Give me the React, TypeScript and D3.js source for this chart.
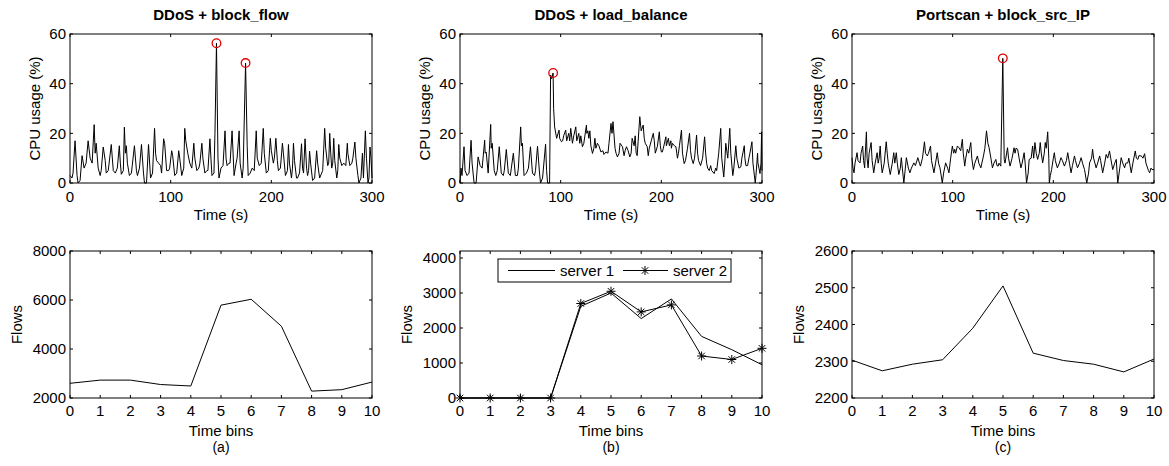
import React from "react";
import * as d3 from "d3";

type Pt = [number, number];

// ---------- data ----------
const cpuTitles = ["DDoS + block_flow", "DDoS + load_balance", "Portscan + block_src_IP"];
const cpuTicksX = [0, 100, 200, 300];
const cpuTicksY = [0, 20, 40, 60];

const cpuBlockFlow: Pt[] = [[0,3],[2,2],[3,4],[5,17],[7,3],[8,0],[10,1],[12,11],[14,6],[16,8],[18,17],[20,10],[22,8],[24,23.5],[25,12],[26,16],[28,6],[30,3],[31,5],[33,14.5],[35,9],[36,4],[38,5],[41,15.5],[43,5],[45,4],[47,6],[49,15],[50,8],[51,3.5],[53,5],[54,22.5],[55,12],[56,15],[57,8],[59,3],[61,4],[64,15],[66,5],[67,3],[69,6],[71,15.5],[73,4],[74,0],[76,0],[78,15.5],[80,2],[82,4],[84,22],[85,12],[86,9],[88,8],[90,7],[91,4],[93,17.8],[94,16],[96,5],[98,5],[99,6],[101,13],[102,11],[104,3],[106,4],[108,13],[109,10],[111,3],[113,6],[114,22],[115,17],[117,12],[119,8],[121,6],[123,16],[124,10],[126,5],[128,6],[129,8],[131,16],[132,10],[134,4],[136,5],[137,5],[139,17.8],[140,10],[141,3],[143,4],[144,20],[145.5,56.3],[147,10],[148,2],[150,6],[152,7],[154,21],[155,10],[156,7],[158,8],[159,8],[161,21],[162,12],[163,3],[165,8],[166,10],[168,21],[169,8],[171,2],[172,6],[174.4,48.3],[176,15],[177,3],[179,4],[181,6],[183,5],[185,21],[186,10],[188,7],[190,8],[192,22],[193,12],[195,4],[197,5],[199,18],[200,13],[202,8],[203,10],[204.5,18],[206,9],[207,5],[209,6],[211,16],[212,12],[214,3],[216,5],[217,15.5],[218,8],[220,2],[221,6],[222,16],[223,9],[225,2],[226,2],[228,4],[230,15.8],[231,6],[232,4],[233.5,17.8],[235,6],[236,3],[237,5],[238,12.8],[239,8],[241,1],[243,2],[245,13],[246,8],[248,2],[250,4],[251,5],[253,22],[254,14],[256,7],[257,8],[258,20],[259,12],[260,6],[261,8],[262,18],[263,9],[265,2],[266,5],[267,15.5],[268,10],[270,7],[272,8],[274,7],[275.5,16],[276,12],[278,7],[280,8],[281,10],[283,16.5],[284,10],[286,3],[287,0],[289,2],[290.5,12],[291.5,2],[293.4,21],[294.5,10],[296,0],[297,2],[298,14.5],[299,10],[300,2]];
const peaksBlockFlow: Pt[] = [[145.5, 56.3], [174.4, 48.3]];

const cpuLoadBalance: Pt[] = [[0,0],[1,6],[2,3],[4,14.6],[5,5],[7,3],[9,4],[11,17.2],[12,8],[14,0],[16,0],[18,10.5],[20,7],[22,6],[24.5,17.2],[25,12],[26,12.5],[28,4],[30.5,23.6],[31,14],[32,16],[34,5],[35.5,3],[37,5],[39,14.6],[41,4],[43,3],[44,5],[46,13.5],[48,4],[50,3],[51,6],[53,12],[55,3],[57,3],[58,6],[60.3,22.6],[61,15],[62,16],[63.6,3],[66,4],[68,6],[70,14.6],[72,4],[74,3],[75,5],[77,14.8],[79,4],[80,0],[82,2],[85,15.6],[86,5],[87,0],[89,0],[90,43.5],[91,42],[92.5,44.3],[93,30],[94,22.6],[96,18],[98.4,21.3],[99,18],[100.8,16.6],[102,17],[103,19],[105,21.3],[106,17],[108,20],[109,17],[110,22],[111.7,16],[113,19],[115,22.6],[116,17],[118,20],[119,16],[120,19],[121.6,14.6],[123,16],[125.6,23.3],[126,20],[127,21],[128,18],[129,21],[130,15],[131.6,11.9],[133,14],[134,18],[135,14],[136.5,16],[138,15],[140,12.5],[142,13],[143,11.5],[145,12.5],[147,12],[148,16],[150,24],[151,20],[152,24.7],[154,14],[155,12],[156.4,10.5],[158,12],[159,16],[161.4,14.6],[163,11],[164,13],[165.4,14.6],[167,13],[168.7,10.5],[170,12],[171,18],[173,15],[174,19],[175,12],[176,11],[178.6,26.7],[180,21],[182,23.3],[183,18],[184,16],[186,14.6],[187,11],[188,14],[190,17],[192,20],[193,17],[194,12],[196,14.6],[198,20.6],[199,15],[200,12.5],[201,12.5],[202,14],[204.5,18.6],[205,15],[207,18],[208,15],[209.5,17],[210,14],[211,16],[213,15],[214.5,14.6],[216,10],[217,12],[218,15],[220,21.3],[221,12],[222.7,7.8],[224,9],[226,14],[228,20],[229,13],[230,10],[231.7,7.8],[233,10],[235,19.3],[236,12],[237,9],[239,7],[241,10],[243,18.6],[244,12],[245,8],[246,6],[247.6,5],[249,7],[250,5],[252.5,3.8],[254,6],[255,5],[257,12],[259,22],[260,10],[262,2.4],[263,8],[264,16],[266,10],[268,22],[269,12],[271,3],[272,6],[274,15],[275,10],[277,6],[279,6.5],[280,10],[282.4,15],[283,10],[284,7],[285.7,7],[287,10],[288,12],[290,16.6],[291,8],[293.3,0],[294,3],[295.6,12],[296,8],[298,3.8],[299,8],[299.6,20.6],[300,5]];
const peaksLoadBalance: Pt[] = [[92.5, 44.3]];

const cpuBlockSrcIP: Pt[] = [[0,10.2],[1,6],[2,4.1],[3,8],[5,12.2],[6,9],[8,8.1],[9,12],[10.6,14.9],[11.5,9],[12.6,6.1],[13,10],[14.3,20.6],[15,10],[16,6.1],[17,12],[19,16.3],[20,9],[21.6,4.1],[23,8],[25,12.2],[26,8],[27,10],[28,14.9],[29,8],[30,4.1],[32,8],[34,16.6],[35,12],[36,8],[38,3.4],[40,8],[41.5,12.2],[42.5,8],[44,12.2],[45,8],[46.5,3.4],[48,6],[49,10.2],[50,6],[51.5,0],[53,6],[54,10.2],[56,6],[57.5,4.1],[59,6],[61.5,8.1],[63,7],[65.4,10.2],[67,8],[68,6.8],[70,10],[72,16.6],[73,12],[74.8,10.9],[76,12],[78,14.9],[79,9],[81.4,4.1],[83,8],[84.7,12.2],[86,8],[87.4,6.1],[89.7,0],[91,4],[93,8.1],[95,6],[96.3,4.1],[98,10],[99.7,14.9],[101,12],[102,13.6],[103,12],[104.7,14.9],[106.3,14.2],[108,13],[109.6,17.6],[110.5,12],[112,6.8],[113,10],[114.6,13.6],[116,12],[118,16.3],[119,10],[120.6,5.4],[122,8],[124.6,10.9],[126,8],[128,6.1],[129,8],[130.6,10.9],[132,14],[133.6,21],[135,16],[136.2,14.2],[138,10],[139.5,6.1],[141,8],[142.9,9.5],[144,7],[145.2,6.8],[146,8],[147.8,6.8],[149.8,50.2],[151.2,9.5],[152,8],[154.5,14.2],[155.5,10],[157,6.8],[159,10],[161,14.2],[162,12],[163,14],[164.5,13.6],[166,10],[167.8,6.1],[169,8],[171,12.2],[172,8],[173.4,0],[175,4],[176,9.5],[178,10],[179.4,14.9],[180.5,10],[181.7,16.3],[183,12],[184.4,9.5],[186,12],[187,16.3],[188,12],[189.4,8.1],[191,12],[192,16.3],[193,14],[194.4,20.6],[195.5,10],[196,0],[197,3],[198.3,5.4],[200,10],[201,12.2],[202,9],[204,6.1],[206,8],[207.6,10.2],[209,9],[211,6.8],[213,9],[214.3,12.2],[216,8],[217.6,4.1],[219,7],[221,10.9],[222,9],[224,6.1],[226,8],[227.6,10.2],[229,8],[231,5.4],[233.2,0],[235,4],[236,8.1],[238,10],[239,13.6],[240,10],[242.5,6.1],[244,8],[246,10.9],[247,9],[249,4.1],[251,8],[252.5,11.5],[254,10],[255.8,12.9],[257,10],[259,5.4],[261,8],[262.5,9.5],[264,0],[266,6],[267.4,10.2],[269,8],[270.8,6.1],[272,8],[274,8.1],[275,10],[277.4,4.1],[279,8],[281.4,12.9],[282.5,10],[284,9.5],[285,11],[287.4,10.9],[289,10],[290.7,11.8],[292,8],[293,6.8],[294.5,5],[295.7,4.1],[297,6],[298,5.4],[300,5.4]];
const peaksBlockSrcIP: Pt[] = [[149.8, 50.2]];

const timeBins = [0, 1, 2, 3, 4, 5, 6, 7, 8, 9, 10];
const flowsBlockFlow = [2600, 2730, 2730, 2550, 2490, 5790, 6030, 4930, 2280, 2340, 2650];
const flowsServer1 = [0, 0, 0, 0, 2620, 3000, 2270, 2830, 1760, 1380, 950];
const flowsServer2 = [0, 0, 0, 0, 2700, 3050, 2460, 2660, 1200, 1100, 1420];
const flowsBlockSrcIP = [2303, 2274, 2292, 2304, 2390, 2505, 2322, 2302, 2292, 2271, 2306];

const flowTicksA = [2000, 4000, 6000, 8000];
const flowTicksB = [0, 1000, 2000, 3000, 4000];
const flowTicksC = [2200, 2300, 2400, 2500, 2600];
const legendLabels = ["server 1", "server 2"];
const subLabels = ["(a)", "(b)", "(c)"];

// ---------- layout ----------
const FONT = "'Liberation Sans', Arial, Helvetica, sans-serif";
const FS = 15;
const PW = 302;
const colLeft = [70, 460, 852];
const TOP0 = 34, TOP1 = 183;
const BOT0 = 251, BOT1 = 398;
const TICK = 3;

function Frame({ x, y, x0, x1, y0, y1, xt, yt }: any) {
  return (
    <g>
      <rect x={x0} y={y0} width={x1 - x0} height={y1 - y0} fill="none" stroke="#000" strokeWidth={1} />
      {xt.map((t: number) => (
        <g key={"x" + t}>
          <line x1={x(t)} x2={x(t)} y1={y1} y2={y1 - TICK} stroke="#000" />
          <line x1={x(t)} x2={x(t)} y1={y0} y2={y0 + TICK} stroke="#000" />
        </g>
      ))}
      {yt.map((t: number) => (
        <g key={"y" + t}>
          <line x1={x0} x2={x0 + TICK} y1={y(t)} y2={y(t)} stroke="#000" />
          <line x1={x1} x2={x1 - TICK} y1={y(t)} y2={y(t)} stroke="#000" />
          <text x={x0 - 4} y={y(t)} dy="0.36em" textAnchor="end" fontSize={FS} fontFamily={FONT}>{t}</text>
        </g>
      ))}
    </g>
  );
}

function CpuPanel({ left, title, data, peaks }: { left: number; title: string; data: Pt[]; peaks: Pt[] }) {
  const x = d3.scaleLinear().domain([0, 300]).range([left, left + PW]);
  const y = d3.scaleLinear().domain([0, 60]).range([TOP1, TOP0]);
  const line = d3.line<Pt>().x((d) => x(d[0])).y((d) => y(d[1]));
  const cx = left + PW / 2;
  return (
    <g>
      <text x={cx} y={20} textAnchor="middle" fontSize={FS} fontWeight="bold" fontFamily={FONT}>{title}</text>
      <path d={line(data) || ""} fill="none" stroke="#000" strokeWidth={1} strokeLinejoin="round" />
      <Frame x={x} y={y} x0={left} x1={left + PW} y0={TOP0} y1={TOP1} xt={cpuTicksX} yt={cpuTicksY} />
      {cpuTicksX.map((t) => (
        <text key={t} x={x(t)} y={TOP1 + 19} textAnchor="middle" fontSize={FS} fontFamily={FONT}>{t}</text>
      ))}
      <text x={cx} y={TOP1 + 37} textAnchor="middle" fontSize={FS} fontFamily={FONT}>Time (s)</text>
      <text transform={`translate(${left - 35},${(TOP0 + TOP1) / 2}) rotate(-90)`} dy="0.36em" textAnchor="middle" fontSize={FS} fontFamily={FONT}>CPU usage (%)</text>
      {peaks.map((p, i) => (
        <circle key={i} cx={x(p[0])} cy={y(p[1])} r={4.3} fill="none" stroke="#e00000" strokeWidth={1.3} />
      ))}
    </g>
  );
}

function Star({ cx, cy, r }: { cx: number; cy: number; r: number }) {
  const d = r * 0.72;
  return (
    <g stroke="#000" strokeWidth={1}>
      <line x1={cx - r} x2={cx + r} y1={cy} y2={cy} />
      <line x1={cx} x2={cx} y1={cy - r} y2={cy + r} />
      <line x1={cx - d} x2={cx + d} y1={cy - d} y2={cy + d} />
      <line x1={cx - d} x2={cx + d} y1={cy + d} y2={cy - d} />
    </g>
  );
}

function FlowPanel({ left, domain, ticks, series, stars, sub, legend }: any) {
  const x = d3.scaleLinear().domain([0, 10]).range([left, left + PW]);
  const y = d3.scaleLinear().domain(domain).range([BOT1, BOT0]);
  const line = d3.line<number>().x((_, i) => x(timeBins[i])).y((d) => y(d));
  const cx = left + PW / 2;
  const ly = 270.5;
  return (
    <g>
      {series.map((s: number[], i: number) => (
        <path key={i} d={line(s) || ""} fill="none" stroke="#000" strokeWidth={1} />
      ))}
      {stars && stars.map((v: number, i: number) => <Star key={i} cx={x(timeBins[i])} cy={y(v)} r={4.5} />)}
      <Frame x={x} y={y} x0={left} x1={left + PW} y0={BOT0} y1={BOT1} xt={timeBins} yt={ticks} />
      {timeBins.map((t) => (
        <text key={t} x={x(t)} y={BOT1 + 18} textAnchor="middle" fontSize={FS} fontFamily={FONT}>{t}</text>
      ))}
      <text x={cx} y={BOT1 + 38} textAnchor="middle" fontSize={FS} fontFamily={FONT}>Time bins</text>
      <text x={cx} y={BOT1 + 54} textAnchor="middle" fontSize={FS - 1} fontFamily={FONT}>{sub}</text>
      <text transform={`translate(${left - 53},${(BOT0 + BOT1) / 2}) rotate(-90)`} dy="0.36em" textAnchor="middle" fontSize={FS} fontFamily={FONT}>Flows</text>
      {legend && (
        <g>
          <rect x={left + 38} y={ly - 11.5} width={233} height={23} fill="#fff" stroke="#000" strokeWidth={1} />
          <line x1={left + 48} x2={left + 95} y1={ly} y2={ly} stroke="#000" />
          <text x={left + 100} y={ly} dy="0.36em" fontSize={FS} fontFamily={FONT}>{legendLabels[0]}</text>
          <line x1={left + 163} x2={left + 208} y1={ly} y2={ly} stroke="#000" />
          <Star cx={left + 185} cy={ly} r={4.5} />
          <text x={left + 213} y={ly} dy="0.36em" fontSize={FS} fontFamily={FONT}>{legendLabels[1]}</text>
        </g>
      )}
    </g>
  );
}

export default function App() {
  return (
    <svg width={1169} height={466} style={{ position: "absolute", left: 0, top: 0, background: "#fff" }}>
      <rect width={1169} height={466} fill="#fff" />
      <CpuPanel left={colLeft[0]} title={cpuTitles[0]} data={cpuBlockFlow} peaks={peaksBlockFlow} />
      <CpuPanel left={colLeft[1]} title={cpuTitles[1]} data={cpuLoadBalance} peaks={peaksLoadBalance} />
      <CpuPanel left={colLeft[2]} title={cpuTitles[2]} data={cpuBlockSrcIP} peaks={peaksBlockSrcIP} />
      <FlowPanel left={colLeft[0]} domain={[2000, 8000]} ticks={flowTicksA} series={[flowsBlockFlow]} sub={subLabels[0]} />
      <FlowPanel left={colLeft[1]} domain={[0, 4200]} ticks={flowTicksB} series={[flowsServer1, flowsServer2]} stars={flowsServer2} sub={subLabels[1]} legend />
      <FlowPanel left={colLeft[2]} domain={[2200, 2600]} ticks={flowTicksC} series={[flowsBlockSrcIP]} sub={subLabels[2]} />
    </svg>
  );
}
